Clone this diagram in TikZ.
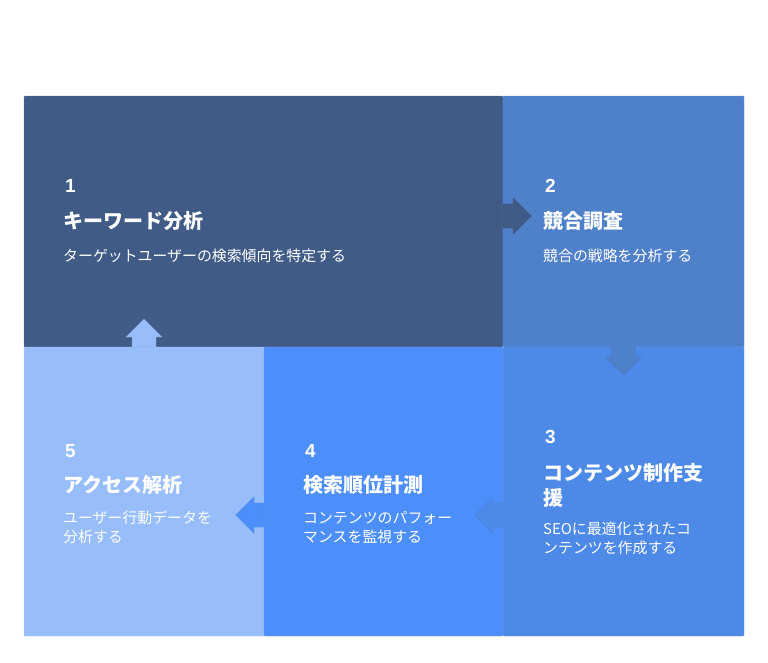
\documentclass[tikz,border=0pt]{standalone}
\usepackage{fontspec}
\setmainfont{Liberation Sans}
\newfontfamily\jp{Noto Sans CJK JP}
\definecolor{kwcol}{HTML}{3F5B86}
\definecolor{compcol}{HTML}{4F80CA}
\definecolor{contcol}{HTML}{4D89E6}
\definecolor{rankcol}{HTML}{4D8FFA}
\definecolor{acccol}{HTML}{97BDFB}
\tikzset{
  panel/.style={anchor=north west,inner sep=0,outer sep=0,rounded corners=1pt},
  num/.style={anchor=west,inner sep=0,text=white,font=\bfseries\fontsize{19}{19}\selectfont},
  ttl/.style={anchor=west,inner sep=0,text=white,align=left,font=\jp\bfseries\fontsize{20}{24.5}\selectfont},
  dsc/.style={anchor=west,inner sep=0,text=white,align=left,font=\jp\fontsize{14.9}{19}\selectfont},
  flow arrow/.pic={
    \path[pic actions] (0,-12) -- (10,-12) -- (10,-18) -- (28,0) -- (10,18) -- (10,12) -- (0,12) -- cycle;
  }
}
\begin{document}
\begin{tikzpicture}[x=1pt,y=-1pt]
  \useasboundingbox[fill=white] (0,0) rectangle (768,662);
  %panels
  \node[panel,fill=kwcol,draw=kwcol!85!white,minimum width=479pt,minimum height=251pt] (kw) at (24,96) {};
  \node[panel,fill=compcol,draw=compcol!85!white,minimum width=241pt,minimum height=251pt] (comp) at (503,96) {};
  \node[panel,fill=acccol,draw=acccol!85!white,minimum width=240pt,minimum height=289pt] (acc) at (24,347) {};
  \node[panel,fill=rankcol,draw=rankcol!85!white,minimum width=239pt,minimum height=289pt] (rank) at (264,347) {};
  \node[panel,fill=contcol,draw=contcol!85!white,minimum width=241pt,minimum height=289pt] (cont) at (503,347) {};
  %arrows
  \pic[fill=kwcol,draw=kwcol!93!black,line width=0.4pt] at (kw.east |- 0,216) {flow arrow};
  \pic[fill=compcol,draw=compcol!95!black,line width=0.4pt,rotate=-90] at (comp.south) {flow arrow};
  \pic[fill=contcol,draw=contcol!95!black,line width=0.4pt,rotate=180] at (cont.west |- 0,515) {flow arrow};
  \pic[fill=rankcol,draw=rankcol!95!black,line width=0.4pt,rotate=180] at (rank.west |- 0,515) {flow arrow};
  \pic[fill=acccol,draw=acccol!85!black,line width=0.4pt,rotate=90] at (acc.north) {flow arrow};
  %1
  \node[num] (kwnum) at (65,186) {1};
  \node[ttl] (kwttl) at (63,221) {キーワード分析};
  \node[dsc] (kwdsc) at (63,256) {ターゲットユーザーの検索傾向を特定する};
  %2
  \node[num] (compnum) at (545,186) {2};
  \node[ttl] (compttl) at (543,221) {競合調査};
  \node[dsc] (compdsc) at (543,256) {競合の戦略を分析する};
  %3
  \node[num] (contnum) at (545,437) {3};
  \node[ttl] (contttl) at (543,485.5) {コンテンツ制作支\\援};
  \node[dsc] (contdsc) at (543,538.5) {SEOに最適化されたコ\\ンテンツを作成する};
  %4
  \node[num] (ranknum) at (305,451) {4};
  \node[ttl] (rankttl) at (303,485) {検索順位計測};
  \node[dsc] (rankdsc) at (303,527.5) {コンテンツのパフォー\\マンスを監視する};
  %5
  \node[num] (accnum) at (65,451) {5};
  \node[ttl] (accttl) at (63,485) {アクセス解析};
  \node[dsc] (accdsc) at (63,527.5) {ユーザー行動データを\\分析する};
\end{tikzpicture}
\end{document}
